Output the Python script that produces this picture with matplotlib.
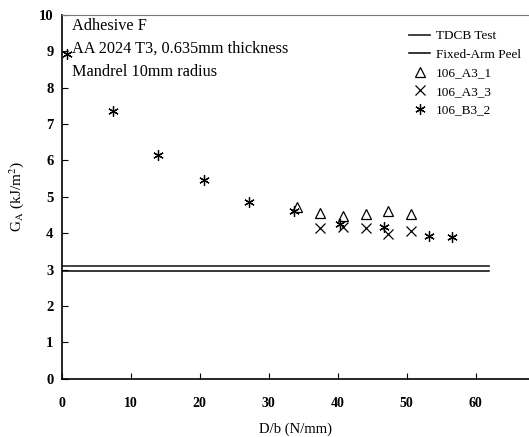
import numpy as np
import matplotlib.pyplot as plt

plt.rcParams['font.family'] = 'Liberation Serif'
plt.rcParams['mathtext.fontset'] = 'stix'

# Reference levels (kJ/m^2)
tdcb_value = 3.11
fixed_arm_value = 2.96
ref_line_x = [0, 62]

# 106_A3_1 (triangles)
a31_x = [34.1, 37.5, 40.7, 44.1, 47.3, 50.7]
a31_y = [4.72, 4.57, 4.48, 4.52, 4.62, 4.53]

# 106_A3_3 (crosses)
a33_x = [37.5, 40.7, 44.1, 47.3, 50.7]
a33_y = [4.14, 4.17, 4.15, 3.98, 4.05]

# 106_B3_2 (asterisks)
b32_x = [0.75, 7.4, 14.0, 20.6, 27.1, 33.6, 40.3, 46.7, 53.3, 56.6]
b32_y = [8.92, 7.37, 6.15, 5.47, 4.87, 4.60, 4.25, 4.18, 3.93, 3.91]

fig = plt.figure(figsize=(5.29, 4.37), dpi=100)
ax = fig.add_axes([0.117, 0.133, 0.883, 0.833])

ax.plot(ref_line_x, [tdcb_value, tdcb_value], color='#333333', lw=1.3, label='TDCB Test')
ax.plot(ref_line_x, [fixed_arm_value, fixed_arm_value], color='black', lw=1.1, label='Fixed-Arm Peel')
ax.plot(a31_x, a31_y, ls='none', marker='^', ms=6.5, mfc='none', mec='black', mew=0.9, label='106_A3_1')
ax.plot(a33_x, a33_y, ls='none', marker='x', ms=6.5, mec='black', mew=0.9, label='106_A3_3')
ax.plot(b32_x, b32_y, ls='none', marker=(6, 2, 0), ms=7.5, mec='black', mew=0.9, label='106_B3_2')

ax.set_xlim(0, 67.75)
ax.set_ylim(0, 10)
ax.set_xticks(range(0, 61, 10))
ax.set_yticks(range(0, 11))
ax.tick_params(axis='x', direction='in', length=4, pad=13, labelsize=10)
ax.tick_params(axis='y', direction='in', length=4, pad=6, labelsize=10.5)
for lbl in ax.get_xticklabels() + ax.get_yticklabels():
    lbl.set_fontweight('bold')

ax.spines['right'].set_visible(False)
ax.spines['top'].set_color('#777777')
ax.spines['left'].set_linewidth(1.2)
ax.spines['bottom'].set_linewidth(1.2)

ax.set_xlabel('D/b (N/mm)', fontsize=10.5, labelpad=9)
ax.set_ylabel(r'G$_\mathrm{A}$ (kJ/m$^2$)', fontsize=11, labelpad=9)

ax.text(0.022, 0.99, 'Adhesive F\nAA 2024 T3, 0.635mm thickness\nMandrel 10mm radius',
        transform=ax.transAxes, ha='left', va='top', fontsize=11.7, linespacing=1.55)

ax.legend(loc='upper right', bbox_to_anchor=(1.0, 0.98), frameon=False, fontsize=9.5,
          handlelength=1.6, handletextpad=0.45, labelspacing=0.48, borderaxespad=0.2)

fig.savefig('out.png', dpi=100)
